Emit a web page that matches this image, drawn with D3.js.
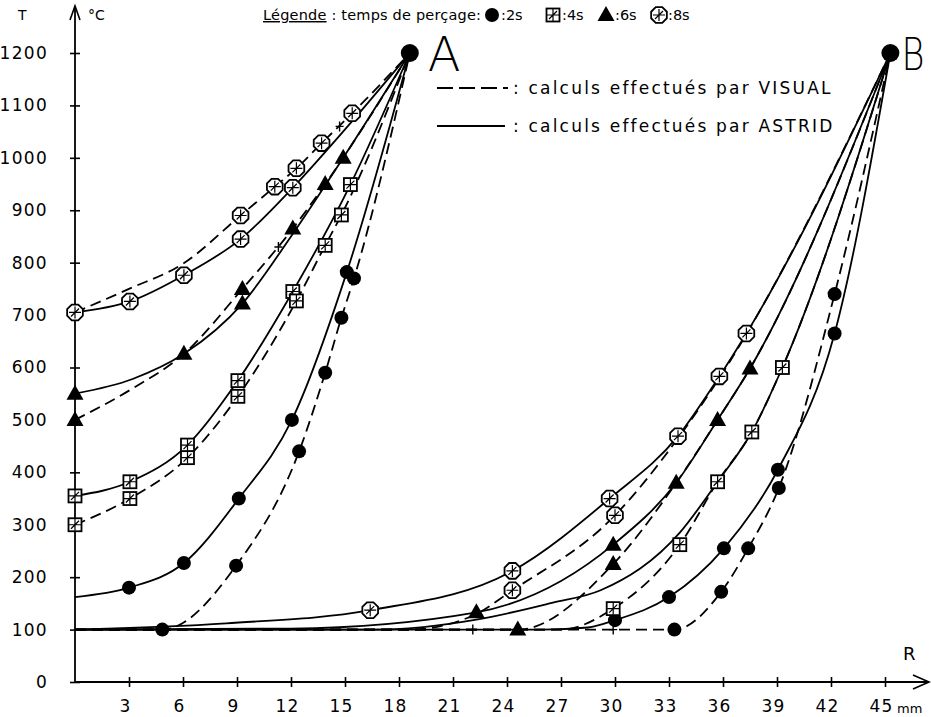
<!DOCTYPE html>
<html><head><meta charset="utf-8">
<script src="https://cdn.jsdelivr.net/npm/d3@7"></script>
<style>body{margin:0;background:#fff}svg{display:block}text{font-family:"DejaVu Sans",sans-serif;fill:#000}</style>
</head><body>
<svg id="c" width="931" height="717"></svg>
<script>
// ---------- DATA ----------
const yTicks = [0,100,200,300,400,500,600,700,800,900,1000,1100,1200];
const xTicks = [3,6,9,12,15,18,21,24,27,30,33,36,39,42,45];
const legendTimes = ["2s","4s","6s","8s"];
const pointA = [18.6,1200];
const pointB = [45.3,1200];
// [R (mm), T (°C), marker shown (1/0)]
// Side A — ASTRID (solid) / VISUAL (dashed)
const a2sAstrid = [[0,162,0],[3,180,1],[6.05,227,1],[9.1,350,1],[12.05,500,1],[15.1,782,1],[18.6,1200,0]];
const a2sVisual = [[0,100,0],[4.85,100,1],[8.95,222,1],[12.45,440,1],[13.9,590,1],[14.8,695,1],[15.5,770,1],[18.6,1200,0]];
const a4sAstrid = [[0,355,1],[3.05,382,1],[6.25,452,1],[9.05,575,1],[12.1,745,1],[15.3,949,1],[18.6,1200,0]];
const a4sVisual = [[0,300,1],[3.05,350,1],[6.25,428,1],[9.05,545,1],[12.3,727,1],[13.9,833,1],[14.8,891,1],[18.6,1200,0]];
const a6sAstrid = [[0,550,1],[3.2,578,0],[6.05,626,1],[9.3,722,1],[12.0,850,0],[14.9,1000,1],[18.6,1200,0]];
const a6sVisual = [[0,500,1],[3.2,560,0],[6.05,626,0],[9.3,750,1],[12.1,865,1],[13.9,950,1],[18.6,1200,0]];
const a8sAstrid = [[0,705,1],[3.05,726,1],[6.05,776,1],[9.2,845,1],[12.1,943,1],[15.4,1070,0],[18.6,1200,0]];
const a8sVisual = [[0,705,0],[3.0,750,0],[6.0,798,0],[9.2,890,1],[11.1,945,1],[12.3,980,1],[13.7,1028,1],[15.4,1085,1],[18.6,1200,0]];
// Side B
const b2sAstrid = [[0,100,0],[26,100,0],[28.5,104,0],[30,118,1],[33,162,1],[36.05,255,1],[39.05,405,1],[42.2,665,1],[45.3,1200,0]];
const b2sVisual = [[0,100,0],[33.3,100,1],[35.9,172,1],[37.4,255,1],[39.1,370,1],[42.2,740,1],[45.3,1200,0]];
const b4sAstrid = [[0,100,0],[17,100,0],[22.3,119,0],[26.5,151,0],[29.2,175,0],[33.6,285,0],[35.7,382,1],[37.6,477,1],[39.3,600,1],[45.3,1200,0]];
const b4sVisual = [[0,100,0],[27,100,0],[29.9,140,1],[33.6,262,1],[35.7,382,0],[37.6,477,0],[39.3,600,0],[45.3,1200,0]];
const b6sAstrid = [[0,100,0],[12,102,0],[22.3,133,1],[29.9,262,1],[33.4,380,1],[35.7,500,1],[37.5,598,1],[45.3,1200,0]];
const b6sVisual = [[0,100,0],[24.6,100,1],[29.9,225,1],[33.4,380,0],[35.7,500,0],[37.5,598,0],[45.3,1200,0]];
const b8sAstrid = [[0,100,0],[8.4,112,0],[16.4,137,1],[24.3,212,1],[29.7,350,1],[33.5,469,1],[35.8,583,1],[37.3,665,1],[45.3,1200,0]];
const b8sVisual = [[0,100,0],[18.5,100,0],[22,125,0],[24.3,175,1],[30,318,1],[33.5,465,0],[35.8,580,0],[45.3,1200,0]];
const crossMarks = [[22.1,100],[29.9,100],[11.3,830],[14.7,1060]];

const series = [
  {d:a2sAstrid,t:"2s",dash:false},{d:a2sVisual,t:"2s",dash:true},
  {d:a4sAstrid,t:"4s",dash:false},{d:a4sVisual,t:"4s",dash:true},
  {d:a6sAstrid,t:"6s",dash:false},{d:a6sVisual,t:"6s",dash:true},
  {d:a8sAstrid,t:"8s",dash:false},{d:a8sVisual,t:"8s",dash:true},
  {d:b2sAstrid,t:"2s",dash:false},{d:b2sVisual,t:"2s",dash:true},
  {d:b4sAstrid,t:"4s",dash:false},{d:b4sVisual,t:"4s",dash:true},
  {d:b6sAstrid,t:"6s",dash:false},{d:b6sVisual,t:"6s",dash:true},
  {d:b8sAstrid,t:"8s",dash:false},{d:b8sVisual,t:"8s",dash:true}
];

// ---------- SCALES ----------
const svg = d3.select("#c");
const x = d3.scaleLinear().domain([0,45]).range([75,885]);
const y = d3.scaleLinear().domain([0,1200]).range([682,53]);

// ---------- AXES ----------
const gy = svg.append("g").attr("transform",`translate(${x(0)},0)`)
  .call(d3.axisLeft(y).tickValues(yTicks).tickSize(5).tickPadding(22).tickFormat(d3.format("d")));
gy.select(".domain").remove();
gy.selectAll(".tick line").attr("x1",-5).attr("x2",5).attr("stroke","#000").attr("stroke-width",1.6);
gy.selectAll(".tick text").style("font-size","17px").style("letter-spacing","1.3px")
  .style("font-family","'DejaVu Sans',sans-serif").attr("fill","#000");

const gx = svg.append("g").attr("transform",`translate(0,${y(0)})`)
  .call(d3.axisBottom(x).tickValues(xTicks).tickSize(5).tickPadding(13).tickFormat(d3.format("d")));
gx.select(".domain").remove();
gx.selectAll(".tick line").attr("y1",-5).attr("y2",5).attr("stroke","#000").attr("stroke-width",1.6);
gx.selectAll(".tick text").style("font-size","17px").style("letter-spacing","1.3px")
  .style("font-family","'DejaVu Sans',sans-serif").attr("fill","#000").attr("dx",-4);

// axis lines with arrows
svg.append("line").attr("x1",x(0)).attr("x2",x(0)).attr("y1",y(0)).attr("y2",6).attr("stroke","#000").attr("stroke-width",1.8);
svg.append("path").attr("d",`M${x(0)-5},20 L${x(0)},6 L${x(0)+5},20`).attr("fill","none").attr("stroke","#000").attr("stroke-width",1.6);
svg.append("line").attr("x1",x(0)).attr("x2",929).attr("y1",y(0)).attr("y2",y(0)).attr("stroke","#000").attr("stroke-width",1.8);
svg.append("path").attr("d",`M913,${y(0)-7} L929,${y(0)} L913,${y(0)+7}`).attr("fill","none").attr("stroke","#000").attr("stroke-width",1.6);

svg.append("text").attr("x",18).attr("y",20).style("font-size","14px").text("T");
svg.append("text").attr("x",88).attr("y",20).style("font-size","14px").text("°C");
svg.append("text").attr("x",903).attr("y",660).style("font-size","18px").text("R");
svg.append("text").attr("x",897).attr("y",713).style("font-size","13px").text("mm");

// ---------- CURVES ----------
const line = d3.line().x(d=>x(d[0])).y(d=>y(d[1])).curve(d3.curveMonotoneX);
svg.append("g").selectAll("path").data(series).join("path")
  .attr("d",s=>line(s.d)).attr("fill","none").attr("stroke","#000")
  .attr("stroke-width",1.8).attr("stroke-dasharray",s=>s.dash?"11,6":null);

// ---------- MARKERS ----------
function drawMarker(g, t, cx, cy){
  if(t==="2s"){
    g.append("circle").attr("cx",cx).attr("cy",cy).attr("r",7).attr("fill","#000");
  } else if(t==="4s"){
    g.append("rect").attr("x",cx-6.5).attr("y",cy-6.5).attr("width",13).attr("height",13)
      .attr("fill","#fff").attr("stroke","#000").attr("stroke-width",1.8);
    g.append("path").attr("d",`M${cx-6},${cy} H${cx+6} M${cx},${cy-6} V${cy+6} M${cx-4},${cy+4} L${cx+4},${cy-4}`)
      .attr("stroke","#000").attr("stroke-width",1.2);
  } else if(t==="6s"){
    g.append("path").attr("d",`M${cx},${cy-9} L${cx+8.5},${cy+6} L${cx-8.5},${cy+6} Z`).attr("fill","#000");
  } else {
    const pts = d3.range(8).map(i=>{const a=Math.PI/8+i*Math.PI/4;return [cx+8.5*Math.cos(a),cy+8.5*Math.sin(a)];});
    g.append("path").attr("d","M"+pts.join("L")+"Z").attr("fill","#fff").attr("stroke","#000").attr("stroke-width",1.8);
    g.append("path").attr("d",`M${cx-6},${cy} H${cx+6} M${cx},${cy-6} V${cy+6} M${cx-4},${cy+4} L${cx+4},${cy-4}`)
      .attr("stroke","#000").attr("stroke-width",1.2);
  }
}
const mg = svg.append("g");
series.forEach(s=>s.d.forEach(p=>{ if(p[2]) drawMarker(mg, s.t, x(p[0]), y(p[1])); }));
crossMarks.forEach(p=>{
  mg.append("path").attr("d",`M${x(p[0])-4},${y(p[1])} H${x(p[0])+4} M${x(p[0])},${y(p[1])-5} V${y(p[1])+5}`)
    .attr("stroke","#000").attr("stroke-width",1.4);
});

// points A and B
[pointA,pointB].forEach(p=>svg.append("circle").attr("cx",x(p[0])).attr("cy",y(p[1])).attr("r",9).attr("fill","#000"));
svg.append("text").attr("x",x(pointA[0])+18).attr("y",y(pointA[1])+18).style("font-size","48px").style("font-weight","200").text("A");
svg.append("text").attr("x",x(pointB[0])+11).attr("y",y(pointB[1])+17).style("font-size","44px").style("font-weight","200")
  .attr("textLength",23).attr("lengthAdjust","spacingAndGlyphs").text("B");

// ---------- LEGEND ----------
const lg = svg.append("text").attr("x",263).attr("y",20).style("font-size","14.5px").style("letter-spacing","0.2px");
lg.append("tspan").attr("text-decoration","underline").text("Légende");
lg.append("tspan").text(" : temps de perçage:");
const legX = [492,553,606,659];
legendTimes.forEach((t,i)=>{
  const g = svg.append("g");
  drawMarker(g, t, legX[i], 15);
  svg.append("text").attr("x",legX[i]+9).attr("y",20).style("font-size","14.5px").text(":"+t);
});
svg.append("line").attr("x1",437).attr("x2",508).attr("y1",88).attr("y2",88).attr("stroke","#000").attr("stroke-width",1.8).attr("stroke-dasharray","16,6");
svg.append("text").attr("x",513).attr("y",94).style("font-size","17px").style("letter-spacing","2.2px").text(": calculs effectués par VISUAL");
svg.append("line").attr("x1",437).attr("x2",505).attr("y1",126).attr("y2",126).attr("stroke","#000").attr("stroke-width",1.8);
svg.append("text").attr("x",513).attr("y",132).style("font-size","17px").style("letter-spacing","2.2px").text(": calculs effectués par ASTRID");
</script>
</body></html>
